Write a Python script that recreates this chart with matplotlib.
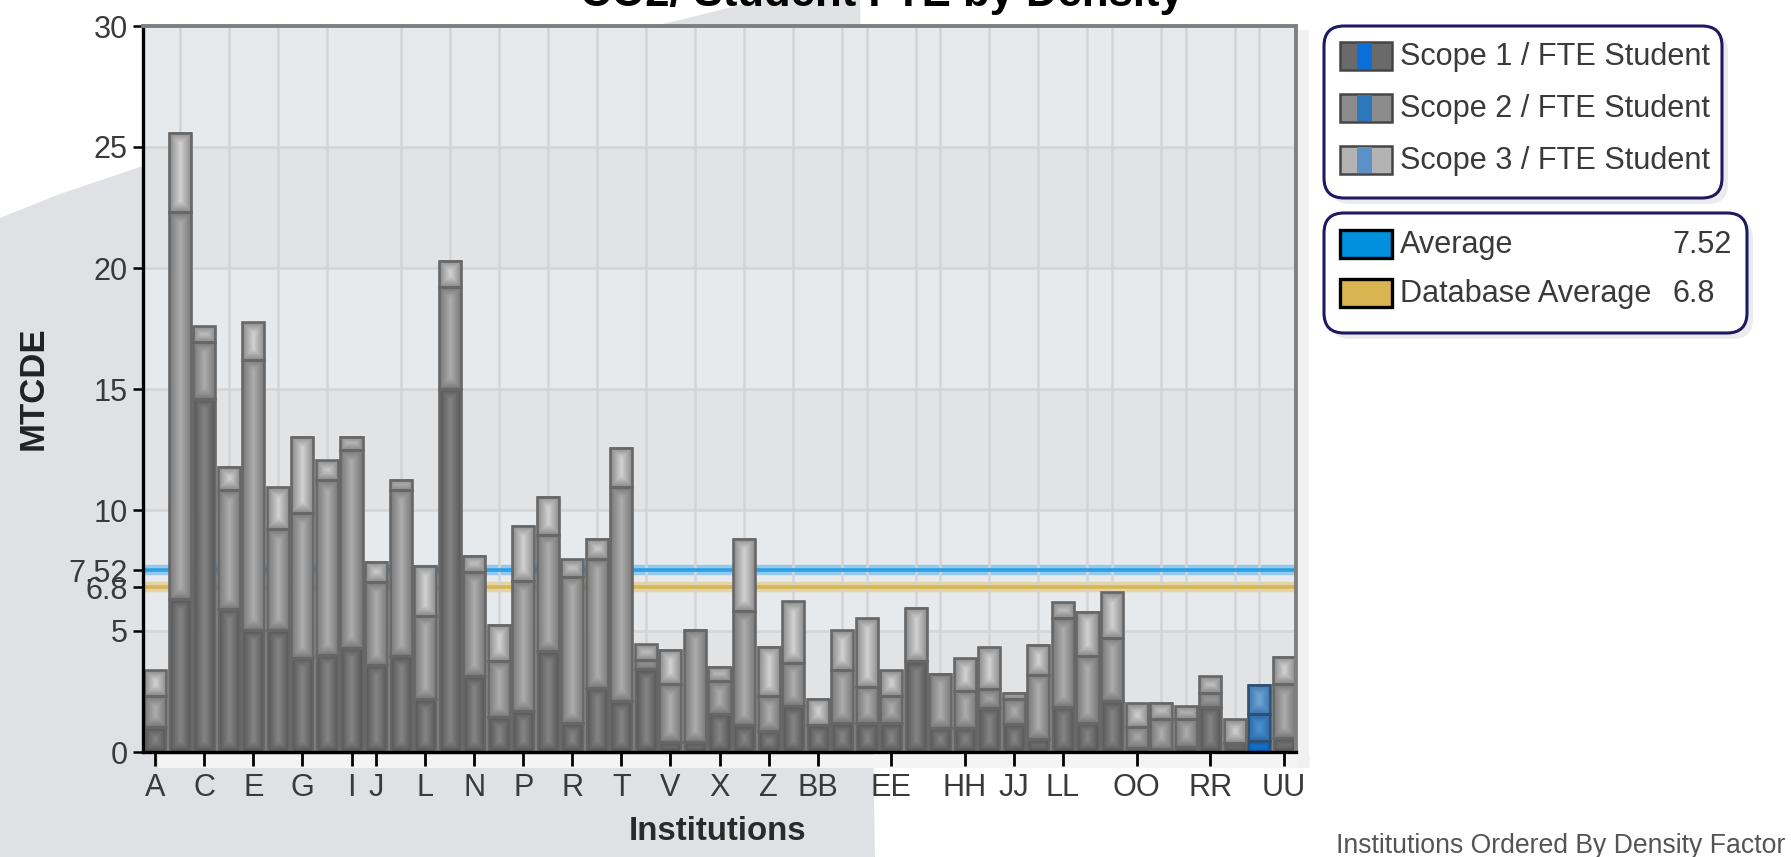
import numpy as np
import matplotlib
matplotlib.use("Agg")
import matplotlib.pyplot as plt
from matplotlib import font_manager
from matplotlib.patches import FancyBboxPatch, Rectangle, Polygon
from matplotlib.colors import LinearSegmentedColormap

# ---- data ----
institutions = ['A', 'B', 'C', 'D', 'E', 'F', 'G', 'H', 'I', 'J', 'K', 'L', 'M',
                'N', 'O', 'P', 'Q', 'R', 'S', 'T', 'U', 'V', 'W', 'X', 'Y', 'Z',
                'AA', 'BB', 'CC', 'DD', 'EE', 'FF', 'GG', 'HH', 'II', 'JJ', 'KK',
                'LL', 'MM', 'NN', 'OO', 'PP', 'QQ', 'RR', 'SS', 'TT', 'UU']
scope1 = [1.03, 6.32, 14.60, 5.91, 5.03, 5.03, 3.89, 4.02, 4.30, 3.61, 3.96, 2.17, 15.01,
          3.13, 1.44, 1.69, 4.16, 1.18, 2.65, 2.10, 3.41, 0.41, 0.41, 1.59, 1.11, 0.87,
          1.90, 1.10, 1.18, 1.18, 1.18, 3.75, 1.00, 1.00, 1.83, 1.14, 0.52,
          1.87, 1.21, 2.10, 0.18, 0.14, 0.19, 1.87, 0.39, 0.45, 0.56]
scope2 = [1.28, 15.98, 2.33, 4.91, 11.18, 4.17, 5.97, 7.22, 8.17, 3.40, 6.86, 3.43, 4.19,
          4.29, 2.31, 5.36, 4.81, 6.07, 5.32, 8.83, 0.41, 2.38, 4.65, 1.34, 4.70, 1.44,
          1.78, 0.00, 2.20, 1.51, 1.13, 0.00, 2.24, 1.54, 0.78, 1.03, 2.68,
          3.67, 2.75, 2.61, 0.87, 1.21, 1.19, 0.58, 0.00, 1.10, 2.23]
scope3 = [1.07, 3.27, 0.66, 0.97, 1.55, 1.73, 3.16, 0.82, 0.55, 0.83, 0.42, 2.09, 1.10,
          0.68, 1.50, 2.29, 1.58, 0.72, 0.83, 1.65, 0.66, 1.43, 0.00, 0.59, 2.99, 2.03,
          2.54, 1.10, 1.65, 2.85, 1.07, 2.20, 0.00, 1.35, 1.73, 0.28, 1.24,
          0.65, 1.82, 1.90, 0.98, 0.68, 0.52, 0.68, 0.99, 1.20, 1.14]
shown_labels = ['A', 'C', 'E', 'G', 'I', 'J', 'L', 'N', 'P', 'R', 'T', 'V', 'X', 'Z',
                'BB', 'EE', 'HH', 'JJ', 'LL', 'OO', 'RR', 'UU']
highlight = 'TT'
average = 7.52
db_average = 6.8
y_ticks = [0, 5, 10, 15, 20, 25, 30]
series_names = ['Scope 1 / FTE Student', 'Scope 2 / FTE Student', 'Scope 3 / FTE Student']

# ---- fonts ----
names = {f.name for f in font_manager.fontManager.ttflist}
if 'Liberation Sans Narrow' in names:
    NARROW, k = 'Liberation Sans Narrow', 1.0
else:
    NARROW, k = 'Liberation Sans', 0.85
plt.rcParams['font.family'] = [NARROW, 'DejaVu Sans']

W, H = 1791, 857
fig = plt.figure(figsize=(W / 100, H / 100), dpi=100)
fig.patch.set_facecolor('white')

# background layer in pixel coordinates (y downward)
bg = fig.add_axes([0, 0, 1, 1], zorder=0)
bg.set_xlim(0, W)
bg.set_ylim(H, 0)
bg.axis('off')
bg.add_patch(Polygon([(0, H), (0, 218), (60, 194), (140, 167), (300, 114), (500, 60),
                      (680, 20), (760, 0), (860, 0), (875, H)],
                     closed=True, fc='#e0e1e5', ec='none'))
bg.add_patch(Rectangle((158, 755), 1152, 13, fc='#f4f4f5', ec='none'))
bg.add_patch(Rectangle((1297, 30), 12, 738, fc='#f1f1f2', ec='none'))

# title (mostly cropped off at the top, as in the reference)
bg.text(882, 6, 'CO2/ Student FTE by Density', ha='center', va='baseline',
        fontsize=37 * k, fontweight='bold', color='black')

# ---- main chart ----
ax = fig.add_axes([143 / W, 1 - 752 / H, (1296 - 143) / W, (752 - 26) / H], zorder=2)
ax.set_facecolor('none')
PX_X = 1153 / len(institutions)
PX_Y = 726 / 30

for i in range(6):
    ax.axhspan(i * 5, i * 5 + 5, color='#e2e3e5' if i % 2 == 0 else '#e7eaed', zorder=0, lw=0)

x = np.arange(len(institutions))
ax.set_xticks(x, minor=True)
ax.grid(which='minor', axis='x', color='#d4d4d4', lw=1.8, zorder=1)
for yv in y_ticks[1:-1]:
    ax.axhline(yv, color='#d6d6d6', lw=2.0, zorder=1)

# reference lines (behind the bars)
ax.axhline(average, color='#93c9ec', lw=7.5, zorder=1.5)
ax.axhline(average, color='#2d9fe3', lw=2.6, zorder=1.6)
ax.axhline(db_average, color='#e4d3a3', lw=7.5, zorder=1.5)
ax.axhline(db_average, color='#d8b557', lw=2.6, zorder=1.6)

gray_shades = [('#555555', '#858585'), ('#787878', '#adadad'), ('#8a8a8a', '#d2d2d2')]
blue_shades = [('#0a5cb0', '#1f8ae8'), ('#2d68a4', '#4b92d4'), ('#3d76ad', '#70a5d6')]


def shade(x0, x1, y0, y1, c_edge, c_mid):
    wpx = (x1 - x0) * PX_X
    hpx = (y1 - y0) * PX_Y
    nx = max(int(wpx), 2)
    ny = max(int(hpx), 2)
    dx = (1 - np.abs(np.linspace(-1, 1, nx))) * wpx / 2
    dy = (1 - np.abs(np.linspace(-1, 1, ny))) * hpx / 2
    d = np.minimum(dx[None, :], dy[:, None]) / (wpx / 2)
    cm = LinearSegmentedColormap.from_list('seg', [c_edge, c_mid])
    ax.imshow(d, extent=(x0, x1, y0, y1), cmap=cm, vmin=0, vmax=1, aspect='auto',
              origin='lower', interpolation='bilinear', zorder=3.2)


bw = 0.9
bottom = np.zeros(len(institutions))
for s, vals in enumerate([scope1, scope2, scope3]):
    vals = np.array(vals)
    face = ['#3a7fc0' if n == highlight else '#8a8a8a' for n in institutions]
    bars = ax.bar(x, vals, bw, bottom=bottom, color=face, lw=0, zorder=3)
    for n, b in zip(institutions, bars):
        if b.get_height() <= 0:
            continue
        c_edge, c_mid = (blue_shades if n == highlight else gray_shades)[s]
        shade(b.get_x(), b.get_x() + b.get_width(), b.get_y(), b.get_y() + b.get_height(),
              c_edge, c_mid)
    edges = ['#2f5072' if n == highlight else '#676767' for n in institutions]
    ax.bar(x, vals, bw, bottom=bottom, fill=False, edgecolor=edges, lw=1.9, zorder=4)
    bottom += vals

ax.set_xlim(-0.5, len(institutions) - 0.5)
ax.set_ylim(0, 30)

for sp in ['left', 'bottom']:
    ax.spines[sp].set_color('black')
    ax.spines[sp].set_linewidth(2.4)
for sp in ['top', 'right']:
    ax.spines[sp].set_color('#7f7f7f')
    ax.spines[sp].set_linewidth(2.8)
for sp in ax.spines.values():
    sp.set_zorder(6)

ax.set_yticks(y_ticks)
ax.set_yticklabels([str(v) for v in y_ticks])
ax.set_yticks([db_average, average], minor=True)
ax.set_yticklabels(['6.8', '7.52'], minor=True)
ax.tick_params(axis='y', which='both', length=7, width=1.8, color='black',
               labelcolor='#3a3a3a', labelsize=26 * k, pad=4)

pos = [institutions.index(n) for n in shown_labels]
ax.set_xticks(pos)
ax.set_xticklabels(shown_labels)
ax.tick_params(axis='x', which='major', length=10, width=2, color='black',
               labelcolor='#3a3a3a', labelsize=26 * k, pad=5)
ax.tick_params(axis='x', which='minor', length=0)

bg.text(718, 832, 'Institutions', ha='center', va='center', fontsize=28 * k,
        fontweight='bold', color='#2a2a2a')
bg.text(33, 388, 'MTCDE', ha='center', va='center', rotation=90, fontsize=25,
        fontweight='bold', color='#222222', family='Liberation Sans')

# ---- legends ----
for (x0, y0, w, h) in [(1324, 26, 398, 172), (1324, 213, 423, 120)]:
    bg.add_patch(FancyBboxPatch((x0 + 6, y0 + 6), w, h, boxstyle='round,pad=0,rounding_size=20',
                                fc='#ebebed', ec='none', zorder=1))
    bg.add_patch(FancyBboxPatch((x0, y0), w, h, boxstyle='round,pad=0,rounding_size=20',
                                fc='white', ec='#1e1960', lw=2.2, zorder=2))

swatch = [('#6a6a6a', '#0a6fd6'), ('#8c8c8c', '#2f77bd'), ('#b3b3b3', '#5b91c6')]
for yc, name, (g, b) in zip([56, 108, 160], series_names, swatch):
    bg.add_patch(Rectangle((1340, yc - 14), 52, 28, fc=g, ec='#454545', lw=1.8, zorder=3))
    bg.add_patch(Rectangle((1357, yc - 13), 15, 26, fc=b, ec='none', zorder=4))
    bg.text(1400, yc + 1, name, ha='left', va='center', fontsize=26 * k, color='#3a3a3a', zorder=5)

for yc, name, val, col in [(244, 'Average', average, '#0090dd'),
                           (293, 'Database Average', db_average, '#d9b552')]:
    bg.add_patch(Rectangle((1340, yc - 14), 52, 28, fc=col, ec='black', lw=2.4, zorder=3))
    bg.text(1400, yc + 1, name, ha='left', va='center', fontsize=26 * k, color='#3a3a3a', zorder=5)
    bg.text(1672, yc + 1, f'{val:g}', ha='left', va='center', fontsize=26 * k, color='#3a3a3a', zorder=5)

bg.text(1336, 853, 'Institutions Ordered By Density Factor', ha='left', va='baseline',
        fontsize=22.5 * k, color='#555555')

fig.savefig('out.png', dpi=100)
